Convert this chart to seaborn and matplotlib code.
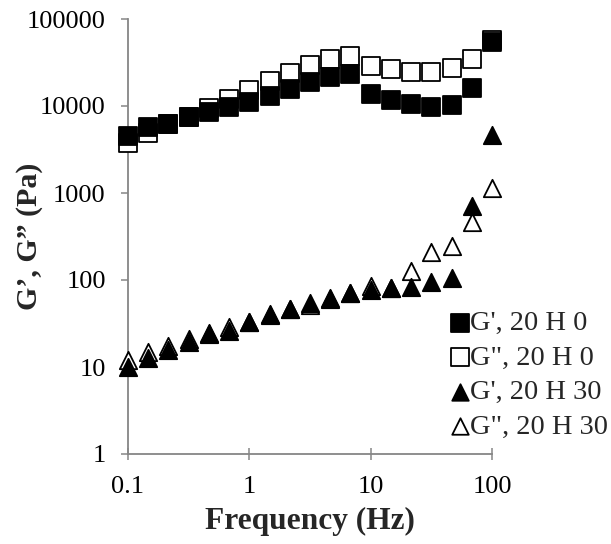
import numpy as np
import pandas as pd
import matplotlib
matplotlib.use("Agg")
import matplotlib.pyplot as plt
import seaborn as sns
from matplotlib.ticker import FixedLocator, FixedFormatter, NullLocator

freq = [0.1, 0.147, 0.215, 0.316, 0.464, 0.681, 1, 1.47, 2.15, 3.16,
        4.64, 6.81, 10, 14.7, 21.5, 31.6, 46.4, 68.1, 100]
gp_h0 = [4500, 5700, 6200, 7400, 8500, 9700, 11000, 13000, 15800, 18800,
         21700, 23300, 13700, 11700, 10500, 9700, 10300, 16000, 54000]
gpp_h0 = [3800, 4900, 6200, 7500, 9500, 12000, 15200, 19400, 24000, 29500,
          34700, 37500, 29000, 26600, 24500, 24500, 27400, 34700, 58000]
gp_h30 = [10, 12.6, 15.7, 19.5, 24.6, 26, 33, 41, 47, 55,
          62, 71, 77, 81, 83, 96, 105, 700, 4600]
gpp_h30 = [12, 14.8, 17.4, 21, 24, 29, 33, 40, 46, 52,
           60, 70, 86, 80, 126, 210, 245, 470, 1150]

labels = ["G', 20 H 0", 'G", 20 H 0', "G', 20 H 30", 'G", 20 H 30']
xticks = [0.1, 1, 10, 100]
xticklabels = ["0.1", "1", "10", "100"]
yticks = [1, 10, 100, 1000, 10000, 100000]
yticklabels = ["1", "10", "100", "1000", "10000", "100000"]

sns.set_theme(style="white")
plt.rcParams["font.family"] = ["Liberation Serif", "DejaVu Serif"]

fig = plt.figure(figsize=(6.11, 5.44), dpi=100)
ax = fig.add_axes([128 / 611, 1 - 454 / 544, (492 - 128) / 611, (454 - 19) / 544])

df = pd.DataFrame({"freq": freq, "gp_h0": gp_h0, "gpp_h0": gpp_h0,
                   "gp_h30": gp_h30, "gpp_h30": gpp_h30})

sq = 13.5 ** 2
tr = 12.5 ** 2
lw = 1.3
# (column, label, marker, face, size, zorder)
series = [
    ("gp_h0", labels[0], "s", "black", sq, 4),
    ("gpp_h0", labels[1], "s", "white", sq, 3),
    ("gp_h30", labels[2], "^", "black", tr, 4),
    ("gpp_h30", labels[3], "^", "white", tr, 3),
]
for col, lab, mk, fc, s, z in series:
    sns.scatterplot(data=df, x="freq", y=col, marker=mk, s=s, color=fc,
                    edgecolor="black", linewidth=lw, label=lab, ax=ax,
                    zorder=z, clip_on=False)

ax.set_xscale("log")
ax.set_yscale("log")
ax.set_xlim(0.1, 100)
ax.set_ylim(1, 100000)

ax.xaxis.set_major_locator(FixedLocator(xticks))
ax.xaxis.set_major_formatter(FixedFormatter(xticklabels))
ax.yaxis.set_major_locator(FixedLocator(yticks))
ax.yaxis.set_major_formatter(FixedFormatter(yticklabels))
ax.xaxis.set_minor_locator(NullLocator())
ax.yaxis.set_minor_locator(NullLocator())

gray = "#868686"
for side in ["top", "right"]:
    ax.spines[side].set_visible(False)
for side in ["left", "bottom"]:
    ax.spines[side].set_color(gray)
    ax.spines[side].set_linewidth(1.3)

ax.tick_params(axis="y", direction="out", length=5, width=1.1, color=gray,
               labelsize=19, pad=11, labelcolor="black", left=True)
ax.tick_params(axis="x", direction="inout", length=9, width=1.1, color=gray,
               labelsize=19, pad=11, labelcolor="black", bottom=True)

ax.set_xlabel("Frequency (Hz)", fontsize=22.6, fontweight="bold", labelpad=7)
ax.set_ylabel("G\u2019, G\u201d (Pa)", fontsize=21.5, fontweight="bold")
ax.yaxis.set_label_coords(-0.2335, 0.5)

handles, labs = ax.get_legend_handles_labels()
leg = ax.legend(handles, labs, loc="upper left", bbox_to_anchor=(433 / 611, 1 - 296 / 544),
                bbox_transform=fig.transFigure, frameon=False, fontsize=20.5,
                handletextpad=-0.1, labelspacing=0.3, borderpad=0, markerscale=0.95,
                handlelength=0.9)

fig.savefig("out.png", dpi=100, facecolor="white")
